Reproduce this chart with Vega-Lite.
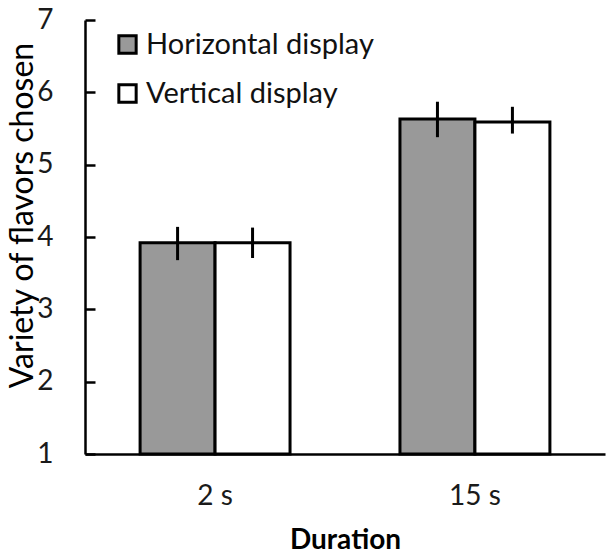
{
  "$schema": "https://vega.github.io/schema/vega-lite/v6.json",
  "width": 520,
  "height": 434,
  "autosize": "none",
  "padding": {"left": 85, "top": 20, "right": 10, "bottom": 100},
  "background": "white",
  "config": {
    "view": {"stroke": null},
    "font": "Lato",
    "axis": {"grid": false, "domainColor": "black", "domainWidth": 2.5, "tickColor": "black", "tickWidth": 2.5, "labelColor": "#1a1a1a", "titleColor": "black", "labelFont": "Lato", "titleFont": "Lato"}
  },
  "data": {
    "values": [
      {"duration": "2 s", "display": "Horizontal display", "mean": 3.92, "lo": 3.68, "hi": 4.14},
      {"duration": "2 s", "display": "Vertical display", "mean": 3.92, "lo": 3.71, "hi": 4.13},
      {"duration": "15 s", "display": "Horizontal display", "mean": 5.63, "lo": 5.38, "hi": 5.87},
      {"duration": "15 s", "display": "Vertical display", "mean": 5.59, "lo": 5.43, "hi": 5.8}
    ]
  },
  "encoding": {
    "x": {
      "field": "duration", "type": "nominal", "sort": ["2 s", "15 s"],
      "scale": {"paddingInner": 0.423, "paddingOuter": 0.212},
      "axis": {"title": "Duration", "labelAngle": 0, "ticks": false, "labelPadding": 28, "labelFontSize": 28, "titleFontSize": 28, "titleFontWeight": "bold", "titlePadding": 16}
    },
    "xOffset": {"field": "display", "type": "nominal", "scale": {"paddingInner": 0, "paddingOuter": 0}}
  },
  "layer": [
    {
      "mark": {"type": "bar", "stroke": "black", "strokeWidth": 3},
      "encoding": {
        "y": {
          "field": "mean", "type": "quantitative",
          "scale": {"domain": [1, 7], "zero": false, "nice": false},
          "axis": {"title": "Variety of flavors chosen", "values": [1, 2, 3, 4, 5, 6, 7], "format": "d", "tickSize": -10, "labelPadding": 42, "labelFontSize": 28, "titleFontSize": 32, "titleFontWeight": "normal", "titlePadding": -3, "titleY": 195}
        },
        "y2": {"datum": 1},
        "fill": {
          "field": "display", "type": "nominal",
          "scale": {"domain": ["Horizontal display", "Vertical display"], "range": ["#999999", "#ffffff"]},
          "legend": {"title": null, "orient": "none", "legendX": 28, "legendY": 10, "symbolType": "square", "symbolSize": 300, "symbolStrokeColor": "black", "symbolStrokeWidth": 3, "labelFontSize": 29, "labelLimit": 400, "labelColor": "#111", "rowPadding": 18, "labelOffset": 4}
        }
      }
    },
    {
      "mark": {"type": "rule", "color": "black", "strokeWidth": 3},
      "encoding": {
        "y": {"field": "lo", "type": "quantitative"},
        "y2": {"field": "hi"}
      }
    }
  ]
}
